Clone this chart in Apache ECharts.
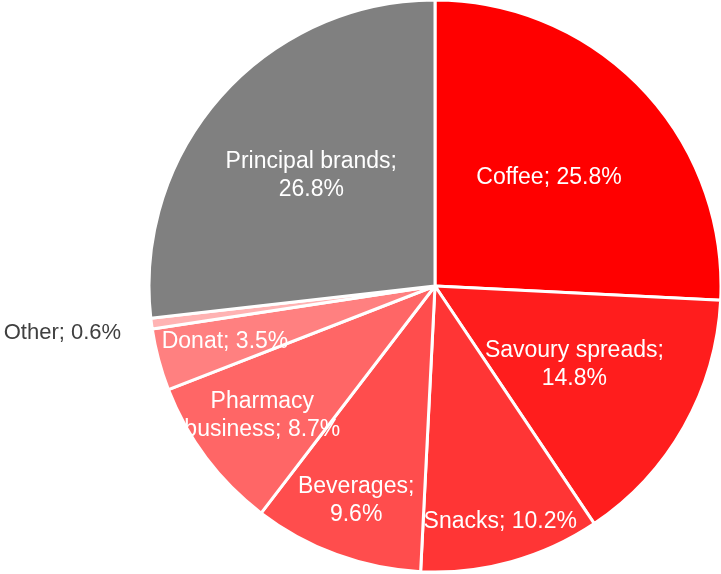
<!DOCTYPE html>
<html>
<head>
<meta charset="utf-8">
<script src="https://cdn.jsdelivr.net/npm/echarts@6/dist/echarts.min.js"></script>
<style>
html,body{margin:0;padding:0;background:#fff;}
#chart{width:721px;height:574px;}
</style>
</head>
<body>
<div id="chart"></div>
<script>
// Data
var categories = ['Coffee', 'Savoury spreads', 'Snacks', 'Beverages', 'Pharmacy business', 'Donat', 'Other', 'Principal brands'];
var shares = [25.8, 14.8, 10.2, 9.6, 8.7, 3.5, 0.6, 26.8];
// label wrapping: 0 = one line, 1 = break after ";", 2 = break after first word
var labelWrap = [0, 1, 0, 1, 2, 0, 0, 1];

// Styling / layout (not data)
var colors = ['#FF0000', '#FF1D1D', '#FF3535', '#FF4D4D', '#FF6666', '#FF8080', '#FFB3B3', '#808080'];
var labelRadiusFrac = [0.55, 0.56, 0.855, 0.80, 0.755, 0.76, 1.107, 0.58];
var CX = 435, CY = 286, R = 286;

function labelText(i) {
  var name = categories[i], v = shares[i].toFixed(1) + '%';
  if (labelWrap[i] === 1) return name + ';\n' + v;
  if (labelWrap[i] === 2) {
    var k = name.indexOf(' ');
    return name.slice(0, k) + '\n' + name.slice(k + 1) + '; ' + v;
  }
  return name + '; ' + v;
}

var total = shares.reduce(function (a, b) { return a + b; }, 0);
var midAngles = [];
(function () {
  var cum = 0;
  for (var i = 0; i < shares.length; i++) {
    var mid = (cum + shares[i] / 2) / total * 2 * Math.PI;
    midAngles.push(mid);
    cum += shares[i];
  }
})();

var data = categories.map(function (c, i) {
  return {
    name: c,
    value: shares[i],
    itemStyle: { color: colors[i] },
    label: i === 6 ? { color: '#404040', fontSize: 22 } : { color: '#FFFFFF' }
  };
});

var chart = echarts.init(document.getElementById('chart'));
chart.setOption({
  animation: false,
  backgroundColor: '#FFFFFF',
  series: [{
    type: 'pie',
    center: [CX, CY],
    radius: [0, R],
    startAngle: 90,
    clockwise: true,
    avoidLabelOverlap: false,
    data: data,
    itemStyle: { borderColor: '#FFFFFF', borderWidth: 3 },
    label: {
      show: true,
      position: 'inside',
      fontFamily: 'Liberation Sans, Arial, sans-serif',
      fontSize: 23,
      lineHeight: 28,
      align: 'center',
      formatter: function (p) { return labelText(p.dataIndex); }
    },
    labelLine: { show: false },
    labelLayout: function (p) {
      var i = p.dataIndex;
      var a = midAngles[i];
      var d = R * labelRadiusFrac[i];
      var x = CX + Math.sin(a) * d;
      var y = CY - Math.cos(a) * d;
      if (i === 6) {
        return { x: x, y: y + 5, align: 'right', verticalAlign: 'middle' };
      }
      return { x: x, y: y, align: 'center', verticalAlign: 'middle' };
    }
  }]
});
</script>
</body>
</html>
